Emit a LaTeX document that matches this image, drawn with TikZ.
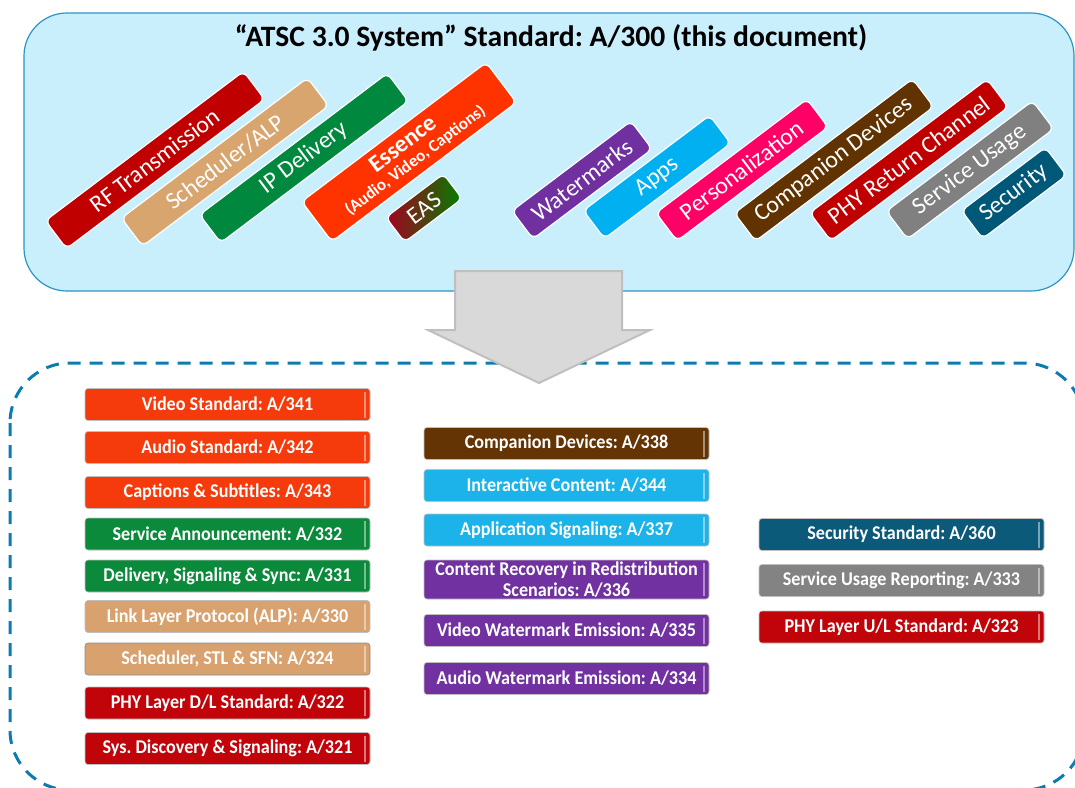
\documentclass[tikz,border=0pt]{standalone}
\usepackage{fontspec}
\setmainfont{Carlito}
\newfontfamily\stdfont[FakeStretch=0.93]{Carlito}
\frenchspacing
\definecolor{boxfill}{HTML}{C9EFFD}
\definecolor{boxline}{HTML}{2E94C4}
\definecolor{dashline}{HTML}{0C7BB0}
\definecolor{arrowfill}{HTML}{D9D9D9}
\definecolor{arrowline}{HTML}{BFBFBF}
\definecolor{rfred}{HTML}{C00000}
\definecolor{schedtan}{HTML}{D9A56F}
\definecolor{ipgreen}{HTML}{00893E}
\definecolor{essorange}{HTML}{FF3300}
\definecolor{easred}{HTML}{A50021}
\definecolor{easgreen}{HTML}{007F00}
\definecolor{wmpurple}{HTML}{7030A0}
\definecolor{appblue}{HTML}{00B0F0}
\definecolor{perspink}{HTML}{FF0066}
\definecolor{compbrown}{HTML}{603300}
\definecolor{servgray}{HTML}{808080}
\definecolor{secteal}{HTML}{005878}
\definecolor{stdorange}{HTML}{F53A0C}
\definecolor{stdgreen}{HTML}{0B8A3C}
\definecolor{stdtan}{HTML}{D8A16D}
\definecolor{stdred}{HTML}{C0040A}
\definecolor{stdbrown}{HTML}{653405}
\definecolor{stdblue}{HTML}{1BB3E9}
\definecolor{stdpurple}{HTML}{7131A1}
\definecolor{stdteal}{HTML}{0C5A79}
\definecolor{stdgray}{HTML}{838383}
\begin{document}
\begin{tikzpicture}[x=1pt, y=-1pt,
	tag/.style = {draw=white, line width=1.2pt, rounded corners=6pt, rotate=37, minimum height=35pt, inner sep=0pt, text=white, font=\fontsize{24}{24}\selectfont},
	std/.style = {draw=black!25, line width=.6pt, rounded corners=3pt, minimum width=285pt, minimum height=32pt, inner sep=1pt, align=center, text=white, font=\stdfont\bfseries\fontsize{19.5}{20.5}\selectfont,
		path picture={\draw[white, opacity=.45, line width=1.4pt] ([xshift=-5pt,yshift=-3pt]path picture bounding box.north east) -- ([xshift=-5pt,yshift=3pt]path picture bounding box.south east);}}]
			\useasboundingbox (0,0) rectangle (1075,787);
			\draw[draw=boxline, fill=boxfill, line width=1.2pt, rounded corners=43pt] (24,13) rectangle (1074,291);
			\node (title) at (551,38) {\bfseries\fontsize{29.6}{30}\selectfont “ATSC 3.0 System” Standard: A/300 (this document)};

			\node[tag, fill=rfred, minimum width=248pt] (t1) at (155,160) {RF Transmission};
			\node[tag, fill=schedtan, minimum width=233pt] (t2) at (225,162) {Scheduler/ALP};
			\node[tag, fill=ipgreen, minimum width=235pt] (t3) at (304,158) {IP Delivery};
			\node[tag, fill=essorange, minimum width=231pt, minimum height=50pt, align=center, font=\bfseries\fontsize{17}{18}\selectfont] (t4) at (409,152) {{\fontsize{24}{25}\selectfont Essence}\\(Audio, Video, Captions)};
			\node[tag, left color=easred, right color=easgreen, minimum width=72pt, minimum height=31pt] (t5) at (424,208) {EAS};
			\node[tag, fill=wmpurple, minimum width=149pt] (t6) at (582,180) {Watermarks};
			\node[tag, fill=appblue, minimum width=158pt] (t7) at (657,177) {Apps};
			\node[tag, fill=perspink, minimum width=189pt] (t8) at (742,170) {Personalization};
			\node[tag, fill=compbrown, minimum width=223pt] (t9) at (834,160) {Companion Devices};
			\node[tag, fill=rfred, minimum width=222pt] (t10) at (909,160) {PHY Return Channel};
			\node[tag, fill=servgray, minimum width=183pt] (t11) at (970,170) {Service Usage};
			\node[tag, fill=secteal, minimum width=105pt] (t12) at (1014,193) {Security};

			\draw[dashline, line width=3pt, dash pattern=on 13pt off 9pt, rounded corners=60pt] (10,363) rectangle (1084,790);

			\node[std, fill=stdorange] (s1) at (227.5,404.5) {Video Standard: A/341};
			\node[std, fill=stdorange] (s2) at (227.5,447.5) {Audio Standard: A/342};
			\node[std, fill=stdorange] (s3) at (227.5,492.5) {Captions \& Subtitles: A/343};
			\node[std, fill=stdgreen] (s4) at (227.5,534) {Service Announcement: A/332};
			\node[std, fill=stdgreen] (s5) at (227.5,576) {Delivery, Signaling \& Sync: A/331};
			\node[std, fill=stdtan] (s6) at (227.5,616.5) {Link Layer Protocol (ALP): A/330};
			\node[std, fill=stdtan, draw=black!45] (s7) at (227.5,659) {Scheduler, STL \& SFN: A/324};
			\node[std, fill=stdred] (s8) at (227.5,703) {PHY Layer D/L Standard: A/322};
			\node[std, fill=stdred] (s9) at (227.5,748.5) {Sys. Discovery \& Signaling: A/321};

			\node[std, fill=stdbrown] (s10) at (566.5,443.5) {Companion Devices: A/338};
			\node[std, fill=stdblue] (s11) at (566.5,485.5) {Interactive Content: A/344};
			\node[std, fill=stdblue] (s12) at (566.5,530) {Application Signaling: A/337};
			\node[std, fill=stdpurple, minimum height=39pt] (s13) at (566.5,579.5) {Content Recovery in Redistribution\\Scenarios: A/336};
			\node[std, fill=stdpurple] (s14) at (566.5,630.5) {Video Watermark Emission: A/335};
			\node[std, fill=stdpurple] (s15) at (566.5,678.5) {Audio Watermark Emission: A/334};

			\node[std, fill=stdteal] (s16) at (901.5,534.5) {Security Standard: A/360};
			\node[std, fill=stdgray] (s17) at (901.5,580.5) {Service Usage Reporting: A/333};
			\node[std, fill=stdred] (s18) at (901.5,627) {PHY Layer U/L Standard: A/323};

			\draw[draw=arrowline, fill=arrowfill, line width=2pt] (455,271) -- (622,271) -- (622,330) -- (650,330) -- (539,383) -- (428,330) -- (455,330) -- cycle;
		\end{tikzpicture}
\end{document}
